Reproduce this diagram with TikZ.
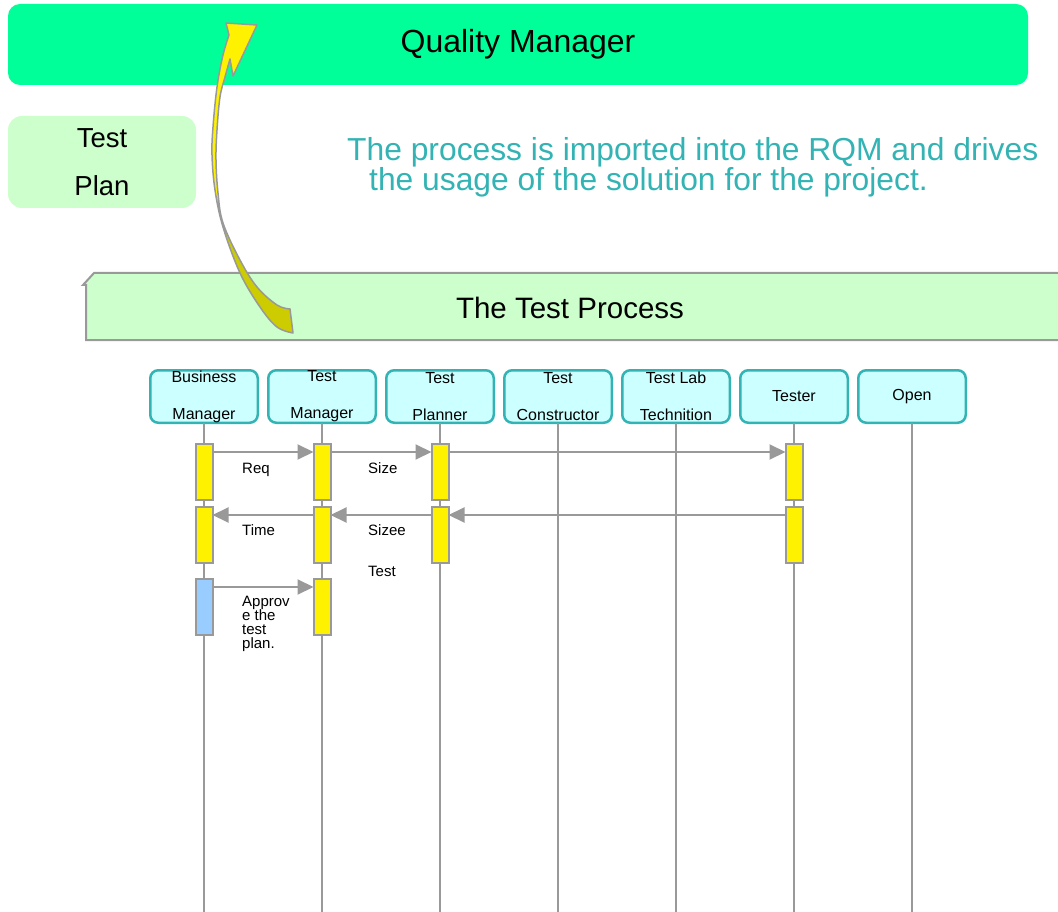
\documentclass[tikz,border=0pt]{standalone}
\usepackage{fontspec}
\setmainfont{Liberation Sans}
\usepackage{xcolor}
\usetikzlibrary{positioning,arrows.meta}
\definecolor{qmgreen}{HTML}{00FF99}
\definecolor{palegreen}{HTML}{CCFFCC}
\definecolor{paleteal}{HTML}{CCFFFF}
\definecolor{tealline}{HTML}{33B3B3}
\definecolor{linegray}{HTML}{999999}
\definecolor{barblue}{HTML}{99CCFF}
\definecolor{swooshdark}{HTML}{CCCC00}
\newcommand{\tightlines}{\lineskiplimit=-20pt\relax}
\newcommand{\swooshpath}{(226,23) -- plot[smooth,tension=0.6] coordinates {(229,35) (223,55) (217,87) (213,127) (212,155) (215,190) (223,227) (240,273) (260,307) (277,327) (293,333)}
  -- plot[smooth,tension=0.6] coordinates {(290,309) (277,305) (257,287) (240,260) (223,223) (218,193) (216,160) (217,130) (220,97) (225,77) (230,59)}
  -- (233,76) -- (257,25) -- cycle}

\begin{document}
\begin{tikzpicture}[x=1pt,y=-1pt,
 role/.style={draw=tealline,line width=2.5pt,fill=paleteal,rounded corners=8pt,
              minimum width=107.5pt,minimum height=52.5pt,inner sep=0pt,outer sep=0pt,
              align=center,font=\fontsize{16}{37}\selectfont},
 bar/.style={draw=linegray,line width=2pt,fill=yellow,minimum width=17pt,minimum height=56pt,
             inner sep=0pt,outer sep=0pt},
 okbar/.style={bar,fill=barblue},
 life/.style={draw=linegray,line width=2pt},
 msg/.style={-{Triangle[length=16pt,width=15pt]},draw=linegray,line width=2pt},
 lbl/.style={inner sep=0pt,align=left,font=\fontsize{15}{14}\selectfont\tightlines},
 note/.style={inner sep=0pt,align=left,text=tealline,font=\fontsize{31.8}{30}\selectfont\tightlines}
]
\useasboundingbox (0,0) rectangle (1058,912);

\node[fill=qmgreen,rounded corners=12pt,minimum width=1020pt,minimum height=81pt,inner sep=0pt,
      font=\fontsize{32}{32}\selectfont] (qm) at (518,44.5) {Quality Manager};
\node[fill=palegreen,rounded corners=14pt,minimum width=188pt,minimum height=92pt,inner sep=0pt,
      align=center,font=\fontsize{27.5}{48}\selectfont] (plan) at (102,162) {Test\\Plan};

\node[note,anchor=north west] (proc) at (347,137)
  {The process is imported into the RQM and drives\\\hspace*{22pt}the usage of the solution for the project.};

% banner with folded corner
\draw[draw=linegray,line width=2pt,fill=palegreen] (86,340) -- (86,285) -- (83,285) -- (94,273)
  -- (1064,273) -- (1064,340) -- cycle;
\node[inner sep=0pt,font=\fontsize{29.5}{29.5}\selectfont] (tproc) at (570,308) {The Test Process};

% roles
\node[role] (bm) at (204,396.5) {Business\\Manager};
\node[role,right=10.5pt of bm] (tm) {Test\\Manager};
\node[role,right=10.5pt of tm] (tpl) {Test\\Planner};
\node[role,right=10.5pt of tpl] (tc) {Test\\Constructor};
\node[role,right=10.5pt of tc] (tlt) {Test Lab\\Technition};
\node[role,right=10.5pt of tlt] (te) {Tester};
\node[role,right=10.5pt of te] (op) {Open};

\draw[life] (bm.south) -- ++(0,490);
\draw[life] (tm.south) -- ++(0,490);
\draw[life] (tpl.south) -- ++(0,490);
\draw[life] (tc.south) -- ++(0,490);
\draw[life] (tlt.south) -- ++(0,490);
\draw[life] (te.south) -- ++(0,490);
\draw[life] (op.south) -- ++(0,490);

% activations
\node[bar,below=21.25pt of bm] (bm1) {};
\node[bar,below=7pt of bm1] (bm2) {};
\node[okbar,below=16pt of bm2] (bm3) {};
\node[bar,below=21.25pt of tm] (tm1) {};
\node[bar,below=7pt of tm1] (tm2) {};
\node[bar,below=16pt of tm2] (tm3) {};
\node[bar,below=21.25pt of tpl] (pl1) {};
\node[bar,below=7pt of pl1] (pl2) {};
\node[bar,below=21.25pt of te] (te1) {};
\node[bar,below=7pt of te1] (te2) {};

\draw[msg] ([yshift=-8pt]bm1.north east) -- ([yshift=-8pt]tm1.north west);
\draw[msg] ([yshift=-8pt]tm1.north east) -- ([yshift=-8pt]pl1.north west);
\draw[msg] ([yshift=-8pt]pl1.north east) -- ([yshift=-8pt]te1.north west);
\draw[msg] ([yshift=-8pt]te2.north west) -- ([yshift=-8pt]pl2.north east);
\draw[msg] ([yshift=-8pt]pl2.north west) -- ([yshift=-8pt]tm2.north east);
\draw[msg] ([yshift=-8pt]tm2.north west) -- ([yshift=-8pt]bm2.north east);
\draw[msg] ([yshift=-8pt]bm3.north east) -- ([yshift=-8pt]tm3.north west);

\node[lbl,anchor=base west] (req) at (242,473) {Req};
\node[lbl,anchor=base west] (size) at (368,473) {Size};
\node[lbl,anchor=base west] (time) at (242,535) {Time};
\node[lbl,anchor=base west] (sizee) at (368,535) {Sizee};
\node[lbl,anchor=base west] (tlabel) at (368,576) {Test};
\node[lbl,anchor=north west] (appr) at (242,596) {Approv\\e the\\test\\plan.};

% two-tone swoosh
\fill[yellow] \swooshpath;
\begin{scope}
\clip (0,215) rectangle (400,400);
\fill[swooshdark] \swooshpath;
\end{scope}
\draw[linegray,line width=1.5pt,line join=round] \swooshpath;
\end{tikzpicture}
\end{document}
